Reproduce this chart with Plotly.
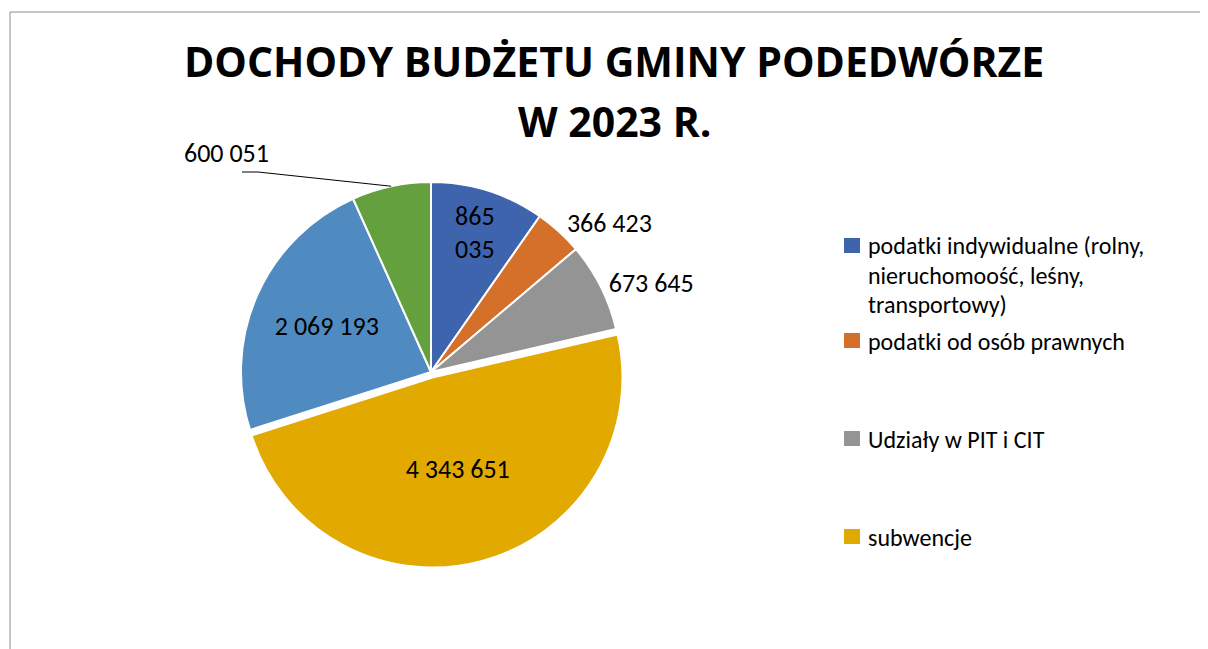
import math
import plotly.graph_objects as go

# ---- data ----
categories = [
    "podatki indywidualne (rolny, nieruchomoość, leśny, transportowy)",
    "podatki od osób prawnych",
    "Udziały w PIT i CIT",
    "subwencje",
    "dotacje",
    "pozostałe dochody",
]
values = [865035, 366423, 673645, 4343651, 2069193, 600051]
colors = ["#3F64AE", "#D5702A", "#949494", "#E2A900", "#4F8BC0", "#65A03F"]
legend_labels = [
    ["podatki indywidualne (rolny,", "nieruchomoość, leśny,", "transportowy)"],
    ["podatki od osób prawnych"],
    ["Udziały w PIT i CIT"],
    ["subwencje"],
]
title_lines = ["DOCHODY BUDŻETU GMINY PODEDWÓRZE", "W 2023 R."]

W, H = 1208, 649
OFF = 8  # page body margin of the exported html
FONT = "Carlito, Lato, sans-serif"
TITLE_FONT = "Open Sans, sans-serif"


def fmt(v):
    return f"{v:,}".replace(",", " ")


texts = [fmt(v) for v in values]
texts[0] = texts[0].replace(" ", "<br>")
positions = ["inside", "outside", "outside", "inside", "inside", "none"]
pulls = [0, 0, 0, 0.03, 0, 0]


def px(x):
    return (x - OFF) / W


def py(y):
    return 1 - (y - OFF) / H


# pie box
cx, cy, r = 431, 372, 190
half = r * (1 + max(pulls))

fig = go.Figure()
fig.add_trace(go.Pie(
    labels=categories,
    values=values,
    text=texts,
    textinfo="text",
    textposition=positions,
    insidetextorientation="horizontal",
    sort=False,
    direction="clockwise",
    rotation=0,
    pull=pulls,
    marker=dict(colors=colors, line=dict(color="white", width=2)),
    textfont=dict(family=FONT, size=26, color="black"),
    showlegend=False,
    hoverinfo="skip",
    domain=dict(x=[px(cx - half), px(cx + half)], y=[py(cy + half), py(cy - half)]),
))

annotations = []
shapes = []

# title
for line, yc in zip(title_lines, [61, 121]):
    annotations.append(dict(
        text="<b>" + line + "</b>", x=px(614), y=py(yc), xref="paper", yref="paper",
        xanchor="center", yanchor="middle", showarrow=False,
        font=dict(family=TITLE_FONT, size=41, color="black"),
    ))

# leader-line label for the last (green) slice, pointing at its mid-angle on the rim
total = sum(values)
start = sum(values[:-1]) / total * 360
mid = math.radians(start + values[-1] / total * 360 / 2)
hx = cx + r * math.sin(mid)
hy = cy - r * math.cos(mid)
annotations.append(dict(
    text=texts[-1], x=px(226), y=py(153), xref="paper", yref="paper",
    xanchor="center", yanchor="middle", showarrow=False,
    font=dict(family=FONT, size=26, color="black"),
))
shapes.append(dict(
    type="path", xref="paper", yref="paper",
    path=f"M {px(242)} {py(172)} L {px(258)} {py(172)} L {px(hx)} {py(hy)}",
    line=dict(color="black", width=1),
))

# custom legend (only the visible entries)
legend_base = [[255, 284, 313], [350], [448], [546]]
for lines, col, bases in zip(legend_labels, colors, legend_base):
    sc = bases[0] - 9.5
    shapes.append(dict(type="rect", xref="paper", yref="paper",
                       x0=px(844), x1=px(860), y0=py(sc + 7.5), y1=py(sc - 7.5),
                       fillcolor=col, line=dict(width=0)))
    for txt, b in zip(lines, bases):
        annotations.append(dict(
            text=txt, x=px(866), y=py(b - 9), xref="paper", yref="paper",
            xanchor="left", yanchor="middle", align="left", showarrow=False,
            font=dict(family=FONT, size=24, color="black"),
        ))

# chart border
shapes.append(dict(type="rect", xref="paper", yref="paper",
                   x0=px(10), x1=px(W + 20), y0=py(H + 20), y1=py(12),
                   line=dict(color="#8C8C8C", width=1), fillcolor="rgba(0,0,0,0)"))

fig.update_layout(
    width=W, height=H,
    margin=dict(l=0, r=0, t=0, b=0),
    paper_bgcolor="white",
    plot_bgcolor="white",
    annotations=annotations,
    shapes=shapes,
    showlegend=False,
)

fig.write_html("out.html")
